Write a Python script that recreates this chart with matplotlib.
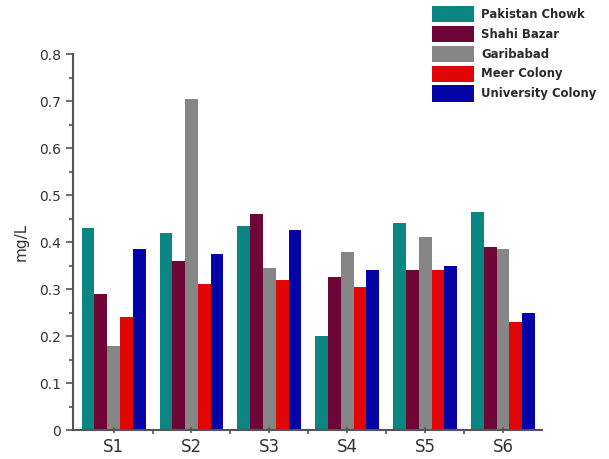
import matplotlib
matplotlib.use("Agg")
import matplotlib.pyplot as plt
import numpy as np
from matplotlib.ticker import MultipleLocator, FuncFormatter, FixedLocator

categories = ["S1", "S2", "S3", "S4", "S5", "S6"]
series_names = ["Pakistan Chowk", "Shahi Bazar", "Garibabad", "Meer Colony", "University Colony"]
pakistan_chowk = [0.43, 0.42, 0.435, 0.20, 0.44, 0.465]
shahi_bazar = [0.29, 0.36, 0.46, 0.325, 0.34, 0.39]
garibabad = [0.18, 0.705, 0.345, 0.38, 0.41, 0.385]
meer_colony = [0.24, 0.31, 0.32, 0.305, 0.34, 0.23]
university_colony = [0.385, 0.375, 0.425, 0.34, 0.35, 0.25]
colors = ["#0a8582", "#6e0738", "#868686", "#e00606", "#0404a6"]

series = [pakistan_chowk, shahi_bazar, garibabad, meer_colony, university_colony]

fig = plt.figure(figsize=(6.09, 4.59), dpi=100)
ax = fig.add_axes([0.12, 0.063, 0.77, 0.819])

x = np.arange(1, len(categories) + 1)
bw = 0.164
for i, (vals, name, c) in enumerate(zip(series, series_names, colors)):
    ax.bar(x + (i - 2) * bw, vals, width=bw, color=c, label=name, edgecolor="none")

ax.set_xlim(0.48, 6.5)
ax.set_ylim(0, 0.8)
ax.set_xticks(x)
ax.set_xticklabels(categories, fontsize=12, color="#333333")
ax.xaxis.set_minor_locator(FixedLocator(np.arange(1.5, 6.5, 1)))
ax.yaxis.set_major_locator(MultipleLocator(0.1))
ax.yaxis.set_minor_locator(MultipleLocator(0.05))
ax.yaxis.set_major_formatter(FuncFormatter(lambda v, p: "0" if abs(v) < 1e-9 else f"{v:.1f}"))
ax.tick_params(axis="y", which="major", labelsize=10, length=5, width=1.2, colors="#555555", labelcolor="#333333")
ax.tick_params(axis="y", which="minor", length=3, width=1.2, colors="#555555")
ax.tick_params(axis="x", which="major", length=5, width=1.2, colors="#555555", labelcolor="#333333", direction="inout")
ax.tick_params(axis="x", which="minor", length=3, width=1.2, colors="#555555")
for s in ["top", "right"]:
    ax.spines[s].set_visible(False)
for s in ["left", "bottom"]:
    ax.spines[s].set_color("#555555")
    ax.spines[s].set_linewidth(1.5)
ax.set_ylabel("mg/L", fontsize=11, color="#333333", labelpad=8)

handles, labels = ax.get_legend_handles_labels()
leg = fig.legend(handles, labels, loc="upper left", bbox_to_anchor=(432 / 609, 1 - 6 / 459),
                 frameon=False, borderpad=0, handlelength=3.6, handleheight=1.75,
                 labelspacing=0.32, handletextpad=0.6, borderaxespad=0,
                 prop={"size": 8.4, "weight": "bold"})
for t in leg.get_texts():
    t.set_color("#2a2a2a")

fig.savefig("out.png", dpi=100)
